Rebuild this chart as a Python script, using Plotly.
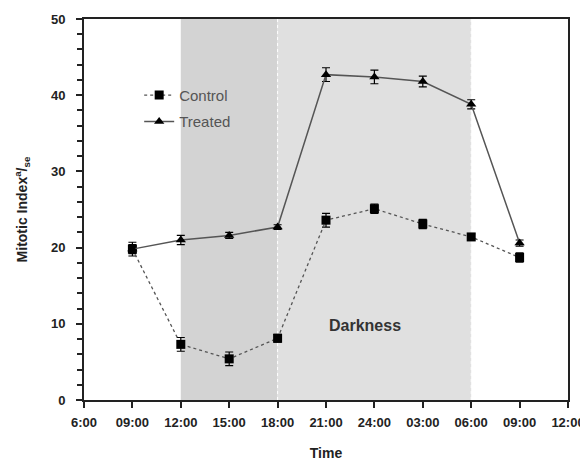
import plotly.graph_objects as go

tick_labels = ["6:00", "09:00", "12:00", "15:00", "18:00", "21:00", "24:00", "03:00", "06:00", "09:00", "12:00"]
time_pos = [1, 2, 3, 4, 5, 6, 7, 8, 9]
control = [19.8, 7.3, 5.4, 8.1, 23.6, 25.1, 23.1, 21.4, 18.7]
control_err = [0.9, 0.9, 0.9, 0.5, 0.9, 0.6, 0.6, 0.4, 0.6]
treated = [19.8, 21.0, 21.6, 22.7, 42.7, 42.4, 41.8, 38.8, 20.6]
treated_err = [0.6, 0.6, 0.4, 0.3, 0.9, 0.9, 0.7, 0.6, 0.4]
light_start, dark_start, dark_end = 2, 4, 8

FONT = "Liberation Sans, Arial"

fig = go.Figure()
fig.add_shape(type="rect", xref="x", yref="y", x0=light_start, x1=dark_start, y0=0, y1=50,
              fillcolor="#d3d3d3", line_width=0, layer="below")
fig.add_shape(type="rect", xref="x", yref="y", x0=dark_start, x1=dark_end, y0=0, y1=50,
              fillcolor="#e0e0e0", line_width=0, layer="below")
for xv in [dark_start, dark_end]:
    fig.add_shape(type="line", xref="x", yref="y", x0=xv, x1=xv, y0=0, y1=50,
                  line=dict(color="white", width=1, dash="dot"), layer="below")

fig.add_trace(go.Scatter(
    x=time_pos, y=control, name="Control", mode="lines+markers", legendgroup="c",
    line=dict(color="#555555", width=1.3, dash="dot"),
    marker=dict(symbol="square", size=9, color="black"),
    error_y=dict(type="data", array=control_err, color="black", thickness=1.2, width=4),
))
fig.add_trace(go.Scatter(
    x=time_pos, y=treated, name="Treated", mode="lines+markers", legendgroup="t",
    line=dict(color="#555555", width=1.5),
    marker=dict(symbol="triangle-up", size=9, color="black"),
    error_y=dict(type="data", array=treated_err, color="black", thickness=1.2, width=4),
))

fig.add_annotation(x=5.8, y=9.8, xref="x", yref="y", text="<b>Darkness</b>", showarrow=False,
                   font=dict(size=16, color="#333333", family=FONT))

# The page body has an 8px margin, so the figure is sized/offset to compensate.
fig.update_layout(
    width=580, height=453,
    margin=dict(l=76, r=20, t=11, b=61),
    plot_bgcolor="white", paper_bgcolor="white",
    font=dict(family=FONT, color="#333333"),
    showlegend=True,
    legend=dict(x=0.114, y=0.843, xanchor="left", yanchor="top", bgcolor="rgba(0,0,0,0)",
                font=dict(size=15, color="#555555"), tracegroupgap=4),
    xaxis=dict(
        range=[0, 10], tickmode="array", tickvals=list(range(11)),
        ticktext=["<b>%s</b>" % t for t in tick_labels], automargin=False,
        showgrid=False, zeroline=False, showline=True, linecolor="#222222", linewidth=2,
        mirror=True, ticks="outside", ticklen=6, tickwidth=2, tickcolor="#222222",
        ticklabelstandoff=3,
        tickfont=dict(size=13, color="#222222", family=FONT),
        title=dict(text="<b>Time</b>", font=dict(size=14, color="#222222"), standoff=22),
    ),
    yaxis=dict(
        range=[0, 50], tickmode="array", tickvals=[0, 10, 20, 30, 40, 50],
        ticktext=["<b>0</b>", "<b>10</b>", "<b>20</b>", "<b>30</b>", "<b>40</b>", "<b>50</b>"],
        automargin=False,
        showgrid=False, zeroline=False, showline=True, linecolor="#222222", linewidth=2,
        mirror=True, ticks="outside", ticklen=6, tickwidth=2, tickcolor="#222222",
        ticklabelstandoff=8,
        minor=dict(tickvals=[v for v in range(2, 50, 2) if v % 10 != 0], ticks="outside",
                   ticklen=5, tickwidth=1.5, tickcolor="#222222"),
        tickfont=dict(size=13, color="#222222", family=FONT),
        title=dict(text="<b>Mitotic Index<sup>a</sup>/<sub>se</sub></b>",
                   font=dict(size=14, color="#222222"), standoff=20),
    ),
)

fig.write_html("out.html")
